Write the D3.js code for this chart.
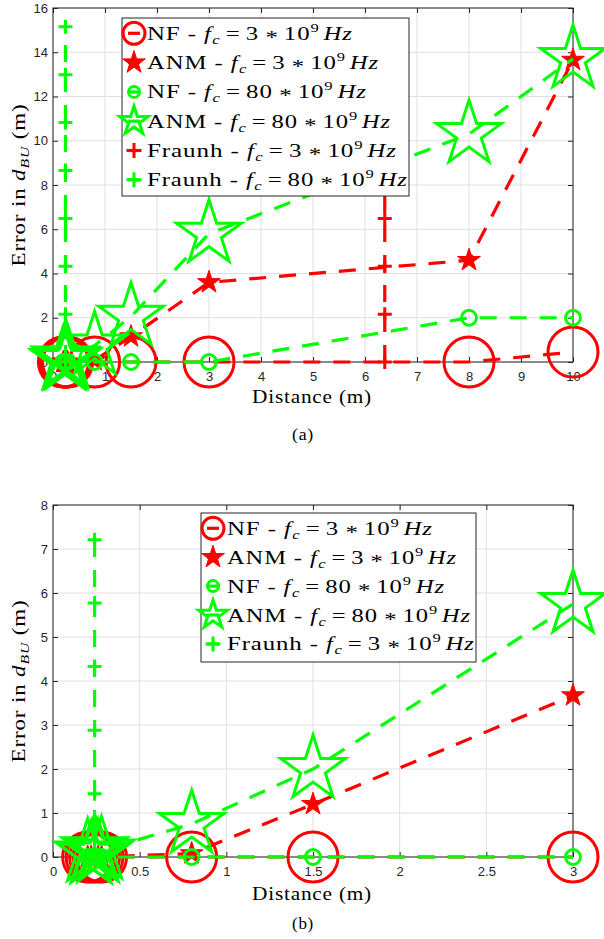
<!DOCTYPE html>
<html>
<head>
<meta charset="utf-8">
<script src="https://cdn.jsdelivr.net/npm/d3@7"></script>
<style>
  body { margin: 0; background: #fff; }
  .serif { font-family: "Liberation Serif", "Times New Roman", serif; fill: #000; letter-spacing: 0.7px; }
</style>
</head>
<body>
<div id="chart"></div>
<script>
// Hard code values ---------- ---------- ----------
const W = 604, H = 939;
const red = "#ff0000", green = "#00ff00", axisCol = "#262626", gridCol = "#dfdfdf";
const dash = "17,13", lineW = 3.2;

// Data : panel (a) ---------- ---------- ----------
const distA   = [0.2, 0.22, 0.24, 0.26, 0.28, 0.8, 1.5, 3, 8, 10];
const nf3A    = [0, 0, 0, 0, 0, 0, 0, 0, 0, 0.45];
const anm3A   = [0, 0, 0, 0, 0, 0.08, 1.15, 3.6, 4.6, 13.65];
const nf80A   = [0, 0, 0, 0, 0, 0, 0, 0, 2, 2];
const anm80A  = [0.1, 0.05, 0.2, 0.08, 0.15, 0.75, 2.05, 5.8, 10.3, 13.7];
const fraunh3DistA  = 6.38;
const fraunh80DistA = 0.24;
const fraunhErrA = [0, 2.16, 4.33, 6.49, 8.66, 10.82, 12.98, 15.15];
const xTicksA = [0, 1, 2, 3, 4, 5, 6, 7, 8, 9, 10];
const yTicksA = [0, 2, 4, 6, 8, 10, 12, 14, 16];

// Data : panel (b) ---------- ---------- ----------
const distB   = [0.2, 0.22, 0.24, 0.26, 0.28, 0.8, 1.5, 3];
const nf3B    = [0, 0, 0, 0, 0, 0, 0, 0];
const anm3B   = [0, 0, 0, 0, 0, 0.08, 1.2, 3.67];
const nf80B   = [0, 0, 0, 0, 0, 0, 0, 0];
const anm80B  = [0.1, 0.05, 0.2, 0.08, 0.15, 0.75, 2.0, 5.75];
const fraunh3DistB = 0.24;
const fraunhErrB = [0, 1.44, 2.88, 4.33, 5.77, 7.21];
const xTicksB = [0, 0.5, 1, 1.5, 2, 2.5, 3];
const yTicksB = [0, 1, 2, 3, 4, 5, 6, 7, 8];

// Legend labels
const legendNamesA = ["NF", "ANM", "NF", "ANM", "Fraunh", "Fraunh"];
const legendFreqA  = ["3", "3", "80", "80", "3", "80"];
const legendNamesB = ["NF", "ANM", "NF", "ANM", "Fraunh"];
const legendFreqB  = ["3", "3", "80", "80", "3"];

// Marker styles
const mkNF3   = {type: "circle", size: 25, color: red,   sw: 3, leg: 11};
const mkANM3  = {type: "star",   size: 12, color: red,   sw: 1, fill: true, leg: 12};
const mkNF80  = {type: "circle", size: 7.5, color: green, sw: 3, leg: 5.5};
const mkANM80 = {type: "star",   size: 34, color: green, sw: 3, leg: 15};
const mkFr3   = {type: "plus",   size: 7,  color: red,   sw: 3, leg: 7.5};
const mkFr80  = {type: "plus",   size: 7,  color: green, sw: 3, leg: 7.5};

// Initialize ---------- ---------- ----------
const svg = d3.select("#chart").append("svg").attr("width", W).attr("height", H)
    .style("background", "#fff");

function starPath(R) {
    let r = R * 0.382, pts = [];
    for (let i = 0; i < 10; i++) {
        let a = -Math.PI / 2 + i * Math.PI / 5, rr = i % 2 ? r : R;
        pts.push([rr * Math.cos(a), rr * Math.sin(a)]);
    }
    return "M" + pts.map(p => p[0].toFixed(2) + "," + p[1].toFixed(2)).join("L") + "Z";
}

function marker(sel, mk, s) {
    if (mk.type === "circle")
        sel.append("circle").attr("r", s).attr("fill", "none").attr("stroke", mk.color).attr("stroke-width", mk.sw);
    else if (mk.type === "star")
        sel.append("path").attr("d", starPath(s)).attr("fill", mk.fill ? mk.color : "none")
            .attr("stroke", mk.color).attr("stroke-width", mk.sw).attr("stroke-linejoin", "miter");
    else
        sel.append("path").attr("d", `M${-s},0H${s}M0,${-s}V${s}`).attr("stroke", mk.color).attr("stroke-width", mk.sw);
}

// the original figure is stretched sideways: stretch a text to the width it has there
function fit(t, target) {
    let w = t.node().getBBox().width;
    t.attr("transform", `scale(${target / w},1)`);
}

function mathLabel(t, name, freq) {
    t.append("tspan").text(name + " - ");
    t.append("tspan").attr("font-style", "italic").text("f");
    t.append("tspan").attr("font-style", "italic").attr("font-size", "13px").attr("dy", 4).attr("dx", 0.5).text("c");
    t.append("tspan").attr("dy", -4).attr("dx", 4).text("=");
    t.append("tspan").attr("dx", 4).text(freq);
    t.append("tspan").attr("dy", 4).attr("dx", 5).text("*");
    t.append("tspan").attr("dy", -4).attr("dx", 4).text("10");
    t.append("tspan").attr("font-size", "13px").attr("dy", -8).text("9");
    t.append("tspan").attr("dy", 8).attr("dx", 3).attr("font-style", "italic").text("Hz");
}

// Draw one panel ---------- ---------- ----------
function panel(p) {
    let g = svg.append("g");
    let x = d3.scaleLinear().domain(p.xDom).range([p.left, p.right]);
    let y = d3.scaleLinear().domain(p.yDom).range([p.bottom, p.top]);

    // grid
    g.selectAll(".gx").data(p.xTicks).join("line").attr("class", "gx")
        .attr("x1", d => x(d)).attr("x2", d => x(d)).attr("y1", p.top).attr("y2", p.bottom)
        .attr("stroke", gridCol).attr("stroke-width", 1);
    g.selectAll(".gy").data(p.yTicks).join("line").attr("class", "gy")
        .attr("y1", d => y(d)).attr("y2", d => y(d)).attr("x1", p.left).attr("x2", p.right)
        .attr("stroke", gridCol).attr("stroke-width", 1);

    // axes (ticks inside, MATLAB box)
    let fmt = d => String(d);
    let styleAxis = a => {
        a.select(".domain").remove();
        a.selectAll(".tick line").attr("stroke", axisCol);
        a.selectAll("text").attr("fill", axisCol).attr("font-size", 13)
            .attr("font-family", "'Liberation Sans', Arial, sans-serif");
    };
    g.append("g").attr("transform", `translate(0,${p.bottom})`)
        .call(d3.axisBottom(x).tickValues(p.xTicks).tickSize(-5).tickPadding(10).tickFormat(fmt)).call(styleAxis);
    g.append("g").attr("transform", `translate(0,${p.top})`)
        .call(d3.axisTop(x).tickValues(p.xTicks).tickSize(-5).tickFormat("")).call(styleAxis);
    g.append("g").attr("transform", `translate(${p.left},0)`)
        .call(d3.axisLeft(y).tickValues(p.yTicks).tickSize(-5).tickPadding(5).tickFormat(fmt)).call(styleAxis);
    g.append("g").attr("transform", `translate(${p.right},0)`)
        .call(d3.axisRight(y).tickValues(p.yTicks).tickSize(-5).tickFormat("")).call(styleAxis);
    g.append("rect").attr("x", p.left).attr("y", p.top).attr("width", p.right - p.left).attr("height", p.bottom - p.top)
        .attr("fill", "none").attr("stroke", axisCol).attr("stroke-width", 1);

    // series
    p.series.forEach(s => {
        let pts = s.x.map((d, i) => [x(d), y(s.y[i])]);
        g.append("path").attr("d", d3.line()(pts)).attr("fill", "none")
            .attr("stroke", s.mk.color).attr("stroke-width", lineW).attr("stroke-dasharray", dash);
        g.selectAll(null).data(pts).join("g").attr("transform", d => `translate(${d[0]},${d[1]})`)
            .each(function () { marker(d3.select(this), s.mk, s.mk.size); });
    });

    // legend
    let L = p.legend;
    g.append("rect").attr("x", L.x).attr("y", L.y).attr("width", L.w).attr("height", L.h)
        .attr("fill", "#fff").attr("stroke", axisCol).attr("stroke-width", 1);
    p.series.forEach((s, i) => {
        let cy = L.row0 + i * L.step;
        let e = g.append("g").attr("transform", `translate(${L.mx},${cy})`);
        e.append("line").attr("x1", -6).attr("x2", 6).attr("stroke", s.mk.color).attr("stroke-width", lineW);
        marker(e, s.mk, s.mk.leg);
        let t = g.append("g").attr("transform", `translate(${L.tx},${cy + 6.5})`)
            .append("text").attr("class", "serif").attr("font-size", "19.5px");
        mathLabel(t, p.names[i], p.freqs[i]);
        fit(t, L.widths[i]);
    });

    // axis labels
    let xl = g.append("g").attr("transform", `translate(${p.xLabel[0]},${p.xLabel[1]})`)
        .append("text").attr("class", "serif").attr("font-size", "19px").attr("text-anchor", "middle")
        .text("Distance (m)");
    fit(xl, 120);

    let yl = g.append("g").attr("transform", `translate(25,${(p.top + p.bottom) / 2}) rotate(-90)`)
        .append("text").attr("class", "serif").attr("font-size", "19px").attr("text-anchor", "middle");
    yl.append("tspan").text("Error in ");
    yl.append("tspan").attr("font-style", "italic").text("d");
    yl.append("tspan").attr("font-style", "italic").attr("font-size", "13px").attr("dy", 4).text("BU");
    yl.append("tspan").attr("dy", -4).text(" (m)");
    fit(yl, 163);

    let cap = g.append("g").attr("transform", `translate(303,${p.caption[1]})`)
        .append("text").attr("class", "serif").attr("font-size", "17px").attr("text-anchor", "middle")
        .text(p.caption[0]);
    fit(cap, 22);
}

// Panel (a)
panel({
    left: 53, right: 573, top: 8, bottom: 362,
    xDom: [0, 10], yDom: [0, 16], xTicks: xTicksA, yTicks: yTicksA,
    series: [
        {x: distA, y: nf3A, mk: mkNF3},
        {x: distA, y: anm3A, mk: mkANM3},
        {x: distA, y: nf80A, mk: mkNF80},
        {x: distA, y: anm80A, mk: mkANM80},
        {x: fraunhErrA.map(() => fraunh3DistA), y: fraunhErrA, mk: mkFr3},
        {x: fraunhErrA.map(() => fraunh80DistA), y: fraunhErrA, mk: mkFr80}
    ],
    names: legendNamesA, freqs: legendFreqA,
    legend: {x: 122, y: 18, w: 287, h: 178, row0: 33.3, step: 29.3, mx: 134, tx: 147,
             widths: [206, 232, 220, 244, 250, 261]},
    xLabel: [312, 403], caption: ["(a)", 440]
});

// Panel (b)
panel({
    left: 53, right: 573, top: 505, bottom: 857,
    xDom: [0, 3], yDom: [0, 8], xTicks: xTicksB, yTicks: yTicksB,
    series: [
        {x: distB, y: nf3B, mk: mkNF3},
        {x: distB, y: anm3B, mk: mkANM3},
        {x: distB, y: nf80B, mk: mkNF80},
        {x: distB, y: anm80B, mk: mkANM80},
        {x: fraunhErrB.map(() => fraunh3DistB), y: fraunhErrB, mk: mkFr80}
    ],
    names: legendNamesB, freqs: legendFreqB,
    legend: {x: 201, y: 513, w: 275, h: 149, row0: 528.3, step: 28.9, mx: 213, tx: 227,
             widths: [206, 230, 218, 244, 248]},
    xLabel: [312, 899.6], caption: ["(b)", 929]
});
</script>
</body>
</html>
